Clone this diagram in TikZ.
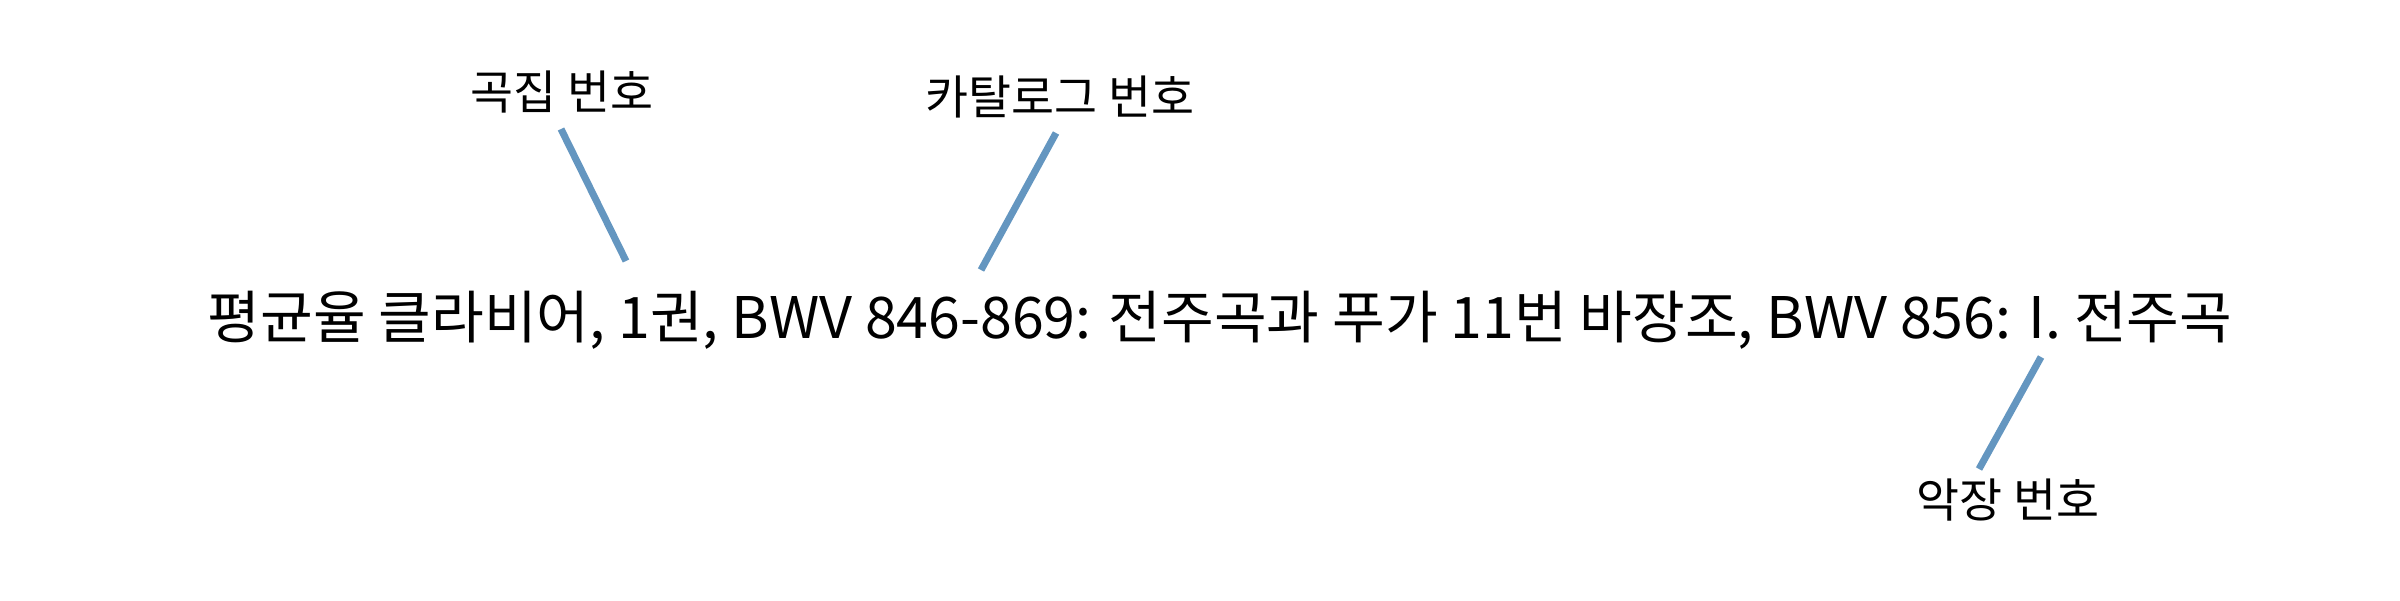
\documentclass[tikz,border=0pt]{standalone}
\usepackage{fontspec}
\setmainfont{Noto Sans CJK KR}
\usepackage{tikz}
\usetikzlibrary{positioning}

\definecolor{leader}{HTML}{6496C0}
\tikzset{
    title/.style={inner sep=0pt, font=\fontsize{16.3pt}{19pt}\selectfont},
    tag/.style={inner sep=0pt, font=\fontsize{13.3pt}{16pt}\selectfont},
    pointer/.style={draw=leader, line width=2pt}
}

\begin{document}
\begin{tikzpicture}
        \useasboundingbox (0,0) rectangle (24,6);

        \node[title] (full) at (12.2, 2.8) {평균율 클라비어, 1권, BWV 846-869: 전주곡과 푸가 11번 바장조, BWV 856: I. 전주곡};

        \node[tag] (set) at (5.62, 5.08) {곡집 번호};
        \node[tag] (cat) at (10.6, 5.03) {카탈로그 번호};
        \node[tag] (mov) at (20.08, 1.0) {악장 번호};

        \coordinate (set-a) at (5.61, 4.71);
        \coordinate (set-b) at (6.26, 3.39);
        \coordinate (cat-a) at (10.56, 4.67);
        \coordinate (cat-b) at (9.81, 3.30);
        \coordinate (mov-a) at (20.41, 2.43);
        \coordinate (mov-b) at (19.79, 1.31);

        \draw[pointer] (set-a) -- (set-b)
              (cat-a) -- (cat-b)
              (mov-a) -- (mov-b);
    \end{tikzpicture}
\end{document}
